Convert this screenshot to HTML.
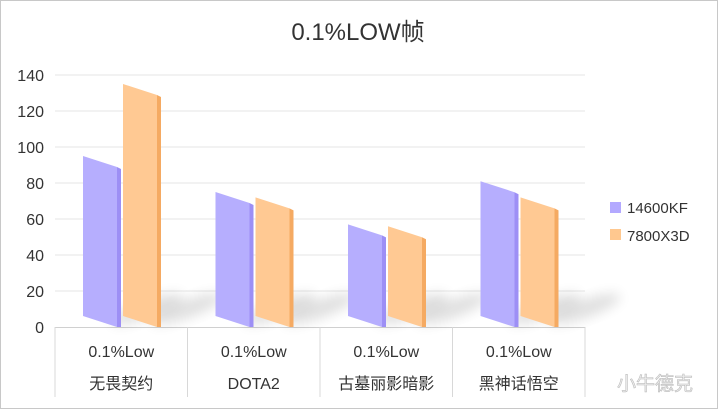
<!DOCTYPE html>
<html><head><meta charset="utf-8"><style>
body{margin:0;background:#fff}
svg{display:block;font-family:"Liberation Sans","Noto Sans CJK SC",sans-serif}
</style></head><body>
<svg id="c" width="718" height="409">
<defs>
<filter id="blur" x="-50%" y="-50%" width="200%" height="200%"><feGaussianBlur stdDeviation="6"/></filter>
</defs>
<rect x="0.5" y="0.5" width="717" height="408" fill="#fff" stroke="#c8c8c8"/>
<text x="358" y="40" text-anchor="middle" font-size="24" fill="#333">0.1%LOW帧</text>
<g id="grid"></g><g id="bars"></g><g id="xl"></g>
<g>
<rect x="610" y="202" width="11" height="11" fill="#b3a9ff"/>
<text x="627" y="213" font-size="15" fill="#333">14600KF</text>
<rect x="610" y="229" width="11" height="11" fill="#ffc88f"/>
<text x="627" y="241" font-size="15" fill="#333">7800X3D</text>
</g>
<text x="617" y="390" font-size="19" fill="#eee" stroke="#bbb" stroke-width="0.6">小牛德克</text>
</svg>
<script>
const categories=["无畏契约","DOTA2","古墓丽影暗影","黑神话悟空"];
const series1=[95,75,57,81];
const series2=[135,72,56,72];
const yTicks=[0,20,40,60,80,100,120,140];
const NS="http://www.w3.org/2000/svg";
const x0=55,x1=585,y0=327,ppu=1.8,cw=(x1-x0)/categories.length;
const y=v=>y0-v*ppu;
function mk(t,a,p){const e=document.createElementNS(NS,t);for(const k in a)e.setAttribute(k,a[k]);p.appendChild(e);return e;}
const g=document.getElementById('grid'),b=document.getElementById('bars'),xl=document.getElementById('xl');
yTicks.forEach(t=>{
 if(t>0){const l=mk('line',{x1:x0,x2:x1,y1:y(t),y2:y(t),stroke:'#e6e6e6'},g);
 
 }
 const tx=mk('text',{x:44,y:y(t)+6,'text-anchor':'end','font-size':16,fill:'#333'},g);tx.textContent=t;
 
 
});
const ax=mk('line',{x1:x0,x2:x1,y1:y0+0.5,y2:y0+0.5,stroke:'#d0d0d0'},g);


for(let i=0;i<=categories.length;i++){const l=mk('line',{x1:x0+i*cw,x2:x0+i*cw,y1:y0,y2:397,stroke:'#d8d8d8'},g);
 
 }
const W=34,S=11;
function bar(cx,v,front,side,name){
 const gg=mk('g',{},b);
 
 
 mk('ellipse',{cx:cx+W+30,cy:y0-18,rx:38,ry:9,fill:'#000',opacity:0.12,filter:'url(#blur)',transform:`rotate(-20 ${cx+W+30} ${y0-18})`},gg);
 mk('polygon',{points:`${cx},${y(v)} ${cx+W},${y(v)+S} ${cx+W},${y0} ${cx},${y0-S}`,fill:front},gg);
 mk('polygon',{points:`${cx+W},${y(v)+S} ${cx+W+4},${y(v)+S+2} ${cx+W+4},${y0} ${cx+W},${y0}`,fill:side},gg);
}
categories.forEach((c,i)=>{
 const bx=x0+i*cw;
 bar(bx+28,series1[i],'#b6aefe','#9d8ff5','bar-14600kf-'+i);
 bar(bx+68,series2[i],'#ffc993','#f5aa62','bar-7800x3d-'+i);
 const t1=mk('text',{x:bx+cw/2,y:357,'text-anchor':'middle','font-size':16,fill:'#333'},xl);t1.textContent='0.1%Low';
 
 
 const t2=mk('text',{x:bx+cw/2,y:389,'text-anchor':'middle','font-size':16,fill:'#333'},xl);t2.textContent=c;
 
 
});
</script>
</body></html>
